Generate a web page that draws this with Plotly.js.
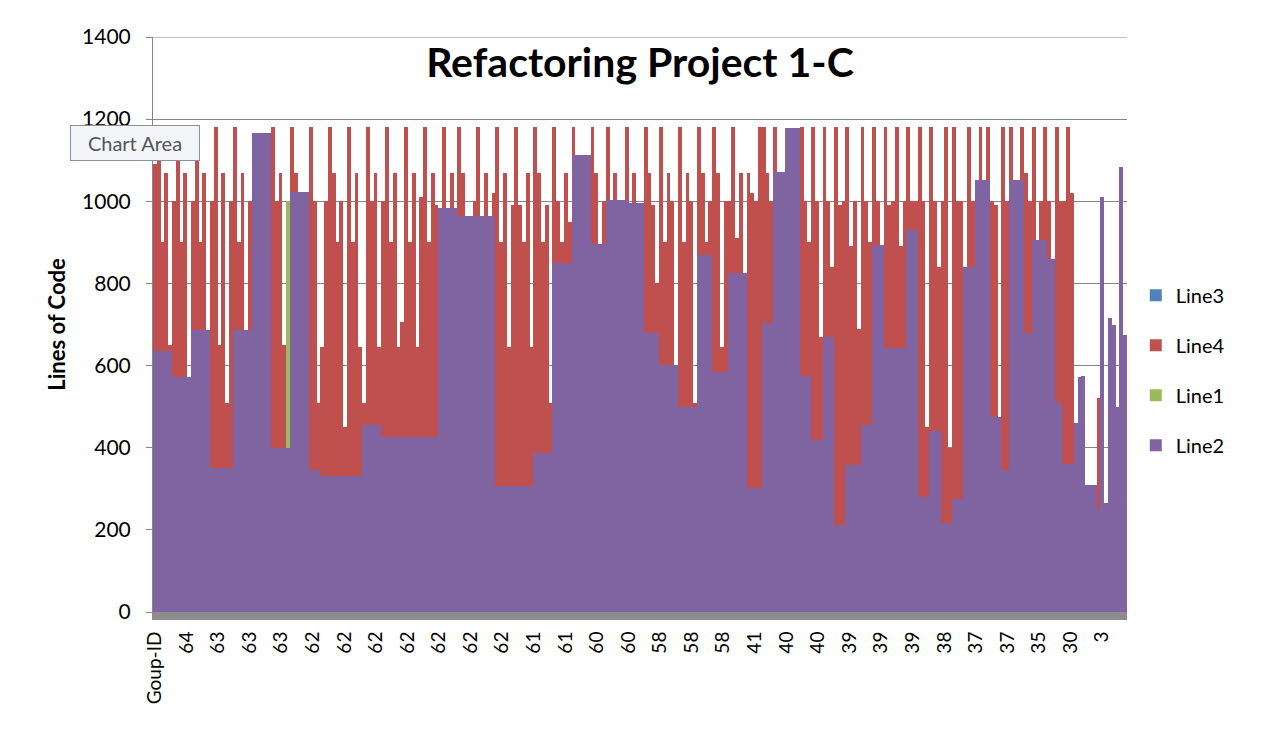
<!DOCTYPE html>
<html>
<head>
<meta charset="utf-8">
<script src="https://cdn.plot.ly/plotly-3.0.1.min.js"></script>
<style>
  html, body { margin: 0; padding: 0; background: #ffffff; }
  #chart { width: 1261px; height: 732px; }
</style>
</head>
<body>
<div id="chart"></div>
<script>
// Tick labels shown along the category axis (every few categories)
const tickLabels = ["Goup-ID","64","63","63","63","62","62","62","62","62","62","62","61","61","60","60",
  "58","58","58","41","40","40","39","39","39","38","37","37","35","30","3"];

// Line2 (bottom series, purple) - one value per category
const line2 = [
  635,635,635,635,635, 573,573,573,573,573, 687,687,687,687,687, 350,350,350,350,350,350,
  687,687,687,687,687, 1166,1166,1166,1166,1166, 400,400,400,400,400, 1023,1023,1023,1023,1023,
  345,345,345, 330,330,330,330,330,330,330,330,330,330,330, 455,455,455,455,455,
  425,425,425,425,425,425,425,425,425,425,425,425,425,425,425, 984,984,984,984,984,
  965,965,965,965,965,965,965,965,965,965, 308,308,308,308,308,308,308,308,308,308,
  387,387,387,387,387, 849,849,849,849,849, 1113,1113,1113,1113,1113, 895,895,895,895,
  1003,1003,1003,1003,1003,1003, 995,995,995,995, 679,679,679,679, 601,601,601,601,601,
  500,500,500,500,500, 869,869,869,869, 584,584,584,584, 825,825,825,825,825, 302,302,302,302,
  703,703,703, 1071,1071,1071, 1178,1178,1178,1178, 575,575,575, 418,418,418, 670,670,670,
  212,212,212, 358,358,358,358, 455,455,455, 894,894,894, 643,643,643,643,643,643, 930,930,930,
  280,280,280, 440,440,440, 217,217,217, 275,275,275, 840,840,840, 1052,1052,1052,1052,
  475,475,475, 345,345, 1052,1052,1052,1052, 680,680, 905,905,905,905, 860,860, 510,510,
  360,360,360, 460,573,575, 309,309,309, 250, 1010,265,716,700,500,1083,675
];

// Line1 (green) - only one non-zero category
const line1Cat = [35];
const line1 = [600];

// Line4 (red) - one value per category
const line4 = [
  455,545,265,435,15,427,607,327,497,0,
  313,493,213,383,0,650,830,300,720,160,
  650,493,213,383,0,313,0,0,0,0,
  0,780,600,670,250,0,157,47,0,0,
  0,835,655,165,315,670,850,740,570,670,
  120,850,570,740,315,55,725,545,615,190,
  575,755,475,645,220,280,755,475,645,220,
  585,755,475,645,565,0,196,0,86,0,
  215,105,0,0,35,215,0,105,0,55,
  872,592,762,337,682,872,682,592,762,337,
  793,683,513,603,121,331,151,51,221,101,
  67,0,0,0,0,285,175,0,105,177,
  0,67,0,0,177,0,75,0,0,501,
  391,311,121,579,299,469,399,0,680,400,
  570,500,10,311,201,31,131,596,486,61,
  416,175,355,85,245,0,768,718,698,878,
  477,367,297,109,0,0,0,0,0,0,
  605,425,325,762,582,252,510,330,170,968,
  778,788,822,532,642,332,725,545,445,286,
  106,0,537,347,357,537,247,357,250,70,
  70,900,720,170,740,560,400,783,963,183,
  905,725,725,0,340,160,0,128,0,128,
  525,515,0,835,655,128,0,0,128,390,
  320,275,0,95,275,140,0,670,490,640,
  820,660,0,0,0,0,0,0,270,0,
  0,0,0,0,0,0
];

// Line3 (blue) - legend only, zero
const line3Cat = [0];
const line3 = [0];

const cats = line2.map((_, i) => i);
const tickStep = 8.3;
const tickVals = tickLabels.map((_, i) => i * tickStep);

const FONT = 'Lato, "Open Sans", sans-serif';

const traces = [
  { type: 'bar', name: 'Line2', x: cats, y: line2, legendgroup: 'd', legendrank: 4,
    marker: { color: '#8064a2', line: { width: 0 } } },
  { type: 'bar', name: 'Line1', x: line1Cat, y: line1, legendgroup: 'c', legendrank: 3,
    marker: { color: '#9bbb59', line: { width: 0 } } },
  { type: 'bar', name: 'Line4', x: cats, y: line4, legendgroup: 'b', legendrank: 2,
    marker: { color: '#c0504d', line: { width: 0 } } },
  { type: 'bar', name: 'Line3', x: line3Cat, y: line3, legendgroup: 'a', legendrank: 1,
    marker: { color: '#4f81bd', line: { width: 0 } } }
];

const layout = {
  width: 1261, height: 732,
  paper_bgcolor: '#ffffff', plot_bgcolor: '#ffffff',
  font: { family: FONT, color: '#000000', size: 19 },
  margin: { l: 153, r: 134, t: 37, b: 120, pad: 0 },
  barmode: 'stack', bargap: 0,
  title: { text: '<b>Refactoring Project 1-C</b>', font: { family: FONT, size: 41, color: '#000' },
           x: 0.5075, xref: 'container', y: 0.914, yref: 'container', xanchor: 'center', yanchor: 'middle' },
  xaxis: {
    range: [-0.5, line2.length - 0.5],
    tickmode: 'array', tickvals: tickVals, ticktext: tickLabels,
    tickangle: -90, tickfont: { family: FONT, size: 19, color: '#000' },
    showgrid: false, zeroline: false,
    showline: true, linecolor: '#8c8c8c', linewidth: 8,
    ticks: '', ticklabelstandoff: 4
  },
  yaxis: {
    range: [0, 1400], dtick: 200, tick0: 0,
    showgrid: true, gridcolor: '#868686', gridwidth: 1,
    zeroline: false, showline: true, linecolor: '#868686', linewidth: 1,
    ticks: 'outside', ticklen: 6, tickcolor: '#868686',
    tickfont: { family: FONT, size: 21, color: '#000' },
    ticklabelstandoff: 11,
    title: { text: '<b>Lines of Code</b>', font: { family: FONT, size: 22, color: '#000' }, standoff: 10 }
  },
  shapes: [
    { type: 'line', xref: 'paper', yref: 'y', x0: 0, x1: 1, y0: 1400, y1: 1400,
      line: { color: '#868686', width: 1 }, layer: 'below' }
  ],
  legend: {
    x: 1.009, xanchor: 'left', y: 0.585, yanchor: 'top',
    traceorder: 'grouped', tracegroupgap: 21,
    font: { family: FONT, size: 20, color: '#000' },
    bgcolor: 'rgba(0,0,0,0)', itemwidth: 30
  },
  annotations: [
    { text: 'Chart Area', xref: 'paper', yref: 'paper', x: -0.0185, y: 0.8165,
      xanchor: 'center', yanchor: 'middle', showarrow: false,
      font: { family: FONT, size: 20, color: '#555555' },
      bgcolor: '#f3f5f9', bordercolor: '#8a8f99', borderwidth: 1, borderpad: 5, width: 118 }
  ],
  showlegend: true
};

Plotly.newPlot('chart', traces, layout, { staticPlot: true, displayModeBar: false });
</script>
</body>
</html>
